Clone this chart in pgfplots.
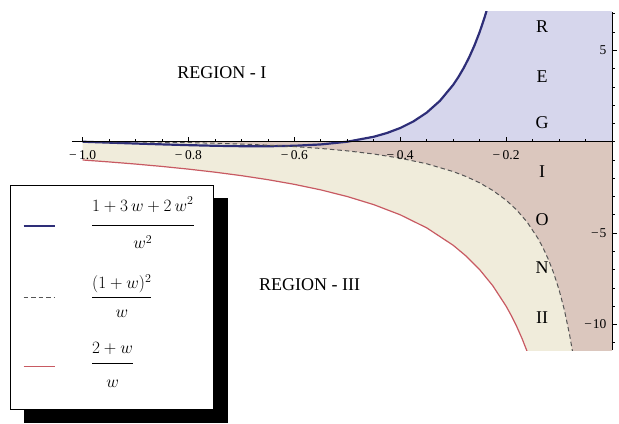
\documentclass[border=0pt]{standalone}
\usepackage{amsmath}
\usepackage{pgfplots}
\pgfplotsset{compat=1.18}
\usepackage{fontspec}
\setmainfont{Liberation Serif}
\pgfdeclarelayer{background}
\pgfsetlayers{background,main}

\definecolor{regblue}{RGB}{214,214,236}
\definecolor{regbrown}{RGB}{219,199,190}
\definecolor{regbeige}{RGB}{240,236,219}
\definecolor{curveblue}{RGB}{46,46,120}
\definecolor{curvered}{RGB}{200,90,98}
\definecolor{curvegray}{RGB}{85,85,85}

\pgfplotsset{
  lineimg/.style={legend image code/.code={\draw[##1] (0pt,#1) -- (31pt,#1);}},
}
% fraction with extra room above and below the bar
\newcommand{\lfrac}[4]{\dfrac{#1\rule[-#3]{0pt}{#3}}{\rule{0pt}{#4}#2}}
\newcommand{\legtext}[3]{\rule[-#2]{0pt}{#1}\makebox[100.6pt][l]{\hspace*{-10pt}\fontsize{17}{20}\selectfont#3}}

\begin{document}
\begin{tikzpicture}
\begin{axis}[
  width=540pt, height=338pt, scale only axis,
  xmin=-1.02, xmax=0, ymin=-11.4, ymax=7.1,
  axis lines=middle,
  axis line style={-, black, line width=0.8pt},
  axis on top,
  xtick={-1,-0.8,-0.6,-0.4,-0.2},
  xticklabels={−\kern2.5pt1.0, −\kern2.5pt0.8, −\kern2.5pt0.6, −\kern2.5pt0.4, −\kern2.5pt0.2},
  minor xtick={-0.95,-0.9,-0.85,-0.75,-0.7,-0.65,-0.55,-0.5,-0.45,-0.35,-0.3,-0.25,-0.15,-0.1,-0.05},
  ytick={-10,-5,5},
  yticklabels={−\kern1pt10, −\kern1pt5, 5},
  minor ytick={-11,-9,-8,-7,-6,-4,-3,-2,-1,0,1,2,3,4,6,7},
  tick align=inside,
  major tick length=5pt, minor tick length=3pt,
  tick style={black, line width=0.7pt},
  ticklabel style={font=\fontsize{13.5}{15}\selectfont},
  xticklabel style={yshift=-5pt},
  yticklabel style={xshift=-2pt},
  legend style={name=leg, at={(-0.1148,0.488)}, anchor=north west,
    draw=black, line width=0.9pt, fill=white,
    inner xsep=12pt, inner ysep=0pt, row sep=0pt, column sep=45.4pt,
    /tikz/every even column/.append style={column sep=45.4pt},
    nodes={inner sep=0pt, text depth={}},
    cells={anchor=base west}},
]
% filled regions
\addplot[fill=regbeige, draw=none, forget plot] coordinates {
  (-1,-1) (-0.95,-1.1053) (-0.9,-1.2222) (-0.85,-1.3529) (-0.8,-1.5)
  (-0.75,-1.6667) (-0.7,-1.8571) (-0.65,-2.0769) (-0.6,-2.3333)
  (-0.55,-2.6364) (-0.5,-3) (-0.45,-3.4444) (-0.4,-4) (-0.35,-4.7143)
  (-0.3,-5.6667) (-0.275,-6.2727) (-0.25,-7) (-0.225,-7.8889) (-0.2,-9)
  (-0.19,-9.5263) (-0.18,-10.1111) (-0.17,-10.7647) (-0.16,-11.5)
  (-0.15,-12.3333) (0,-12.3333)
} \closedcycle;
\addplot[fill=regbrown, draw=none, forget plot] coordinates {
  (-1,0) (-0.9,-0.0111) (-0.8,-0.05) (-0.7,-0.1286) (-0.6,-0.2667)
  (-0.55,-0.3682) (-0.5,-0.5) (-0.45,-0.6722) (-0.4,-0.9) (-0.35,-1.2071)
  (-0.3,-1.6333) (-0.275,-1.9114) (-0.25,-2.25) (-0.225,-2.6694) (-0.2,-3.2)
  (-0.18,-3.7356) (-0.16,-4.41) (-0.14,-5.2829) (-0.13,-5.8223)
  (-0.12,-6.4533) (-0.11,-7.2009) (-0.1,-8.1) (-0.09,-9.2011)
  (-0.08,-10.58) (-0.075,-11.4083) (-0.07,-12.3557) (0,-12.3557)
} \closedcycle;
\addplot[fill=regblue, draw=none, forget plot] coordinates {
  (-0.5,0) (-0.45,0.2716) (-0.425,0.4775) (-0.4,0.75) (-0.375,1.1111)
  (-0.35,1.5918) (-0.325,2.2367) (-0.3,3.1111) (-0.29,3.5458)
  (-0.28,4.0408) (-0.27,4.6063) (-0.26,5.2544) (-0.25,6) (-0.24,6.8611)
  (-0.23,7.8601) (0,7.8601)
} \closedcycle;
% curves
\addplot[curveblue, line width=2.2pt, lineimg=3.75pt] coordinates {
  (-1,0) (-0.95,-0.0499) (-0.9,-0.0988) (-0.85,-0.1453) (-0.8,-0.1875)
  (-0.75,-0.2222) (-0.7,-0.2449) (-0.65,-0.2485) (-0.6,-0.2222)
  (-0.55,-0.1488) (-0.5,0) (-0.45,0.2716) (-0.425,0.4775) (-0.4,0.75)
  (-0.375,1.1111) (-0.35,1.5918) (-0.325,2.2367) (-0.3,3.1111)
  (-0.29,3.5458) (-0.28,4.0408) (-0.27,4.6063) (-0.26,5.2544) (-0.25,6)
  (-0.24,6.8611) (-0.23,7.8601)
};
\addlegendentry{\legtext{80.5pt}{36pt}{$\lfrac{1+3\,w+2\,w^{2}}{w^{2}}{12pt}{20.5pt}$}}
\addplot[curvegray, line width=1pt, dash pattern=on 4.5pt off 3pt, lineimg=3.75pt] coordinates {
  (-1,0) (-0.95,-0.0026) (-0.9,-0.0111) (-0.85,-0.0265) (-0.8,-0.05)
  (-0.75,-0.0833) (-0.7,-0.1286) (-0.65,-0.1885) (-0.6,-0.2667)
  (-0.55,-0.3682) (-0.5,-0.5) (-0.45,-0.6722) (-0.4,-0.9) (-0.35,-1.2071)
  (-0.3,-1.6333) (-0.275,-1.9114) (-0.25,-2.25) (-0.225,-2.6694) (-0.2,-3.2)
  (-0.18,-3.7356) (-0.16,-4.41) (-0.14,-5.2829) (-0.13,-5.8223)
  (-0.12,-6.4533) (-0.11,-7.2009) (-0.1,-8.1) (-0.09,-9.2011)
  (-0.08,-10.58) (-0.075,-11.4083) (-0.07,-12.3557)
};
\addlegendentry{\legtext{67.7pt}{32pt}{$\lfrac{(1+w)^{2}}{w}{6pt}{18pt}$}}
\addplot[curvered, line width=1.2pt, lineimg=0.5pt] coordinates {
  (-1,-1) (-0.95,-1.1053) (-0.9,-1.2222) (-0.85,-1.3529) (-0.8,-1.5)
  (-0.75,-1.6667) (-0.7,-1.8571) (-0.65,-2.0769) (-0.6,-2.3333)
  (-0.55,-2.6364) (-0.5,-3) (-0.45,-3.4444) (-0.4,-4) (-0.35,-4.7143)
  (-0.3,-5.6667) (-0.275,-6.2727) (-0.25,-7) (-0.225,-7.8889) (-0.2,-9)
  (-0.19,-9.5263) (-0.18,-10.1111) (-0.17,-10.7647) (-0.16,-11.5)
  (-0.15,-12.3333)
};
\addlegendentry{\legtext{75.5pt}{42pt}{$\lfrac{2+w}{w}{7pt}{22pt}$}}
% region labels
\node[font=\fontsize{18}{20}\selectfont] at (axis cs:-0.737,3.8) {REGION - I};
\node[font=\fontsize{18}{20}\selectfont] at (axis cs:-0.571,-7.84) {REGION - III};
\node[font=\fontsize{18}{20}\selectfont] at (axis cs:-0.132,6.28) {R};
\node[font=\fontsize{18}{20}\selectfont] at (axis cs:-0.132,3.54) {E};
\node[font=\fontsize{18}{20}\selectfont] at (axis cs:-0.132,1.02) {G};
\node[font=\fontsize{18}{20}\selectfont] at (axis cs:-0.132,-1.66) {I};
\node[font=\fontsize{18}{20}\selectfont] at (axis cs:-0.132,-4.25) {O};
\node[font=\fontsize{18}{20}\selectfont] at (axis cs:-0.132,-6.91) {N};
\node[font=\fontsize{18}{20}\selectfont] at (axis cs:-0.132,-9.6) {II};
\coordinate (bbtl) at (rel axis cs:-0.1333,1.0355);
\coordinate (bbbr) at (rel axis cs:1.013,-0.216);
\end{axis}
\begin{pgfonlayer}{background}
  \fill[black] ([shift={(14pt,-13pt)}]leg.north west) rectangle ([shift={(14pt,-13pt)}]leg.south east);
\end{pgfonlayer}
\path (bbtl) rectangle (bbbr);
\end{tikzpicture}
\end{document}
